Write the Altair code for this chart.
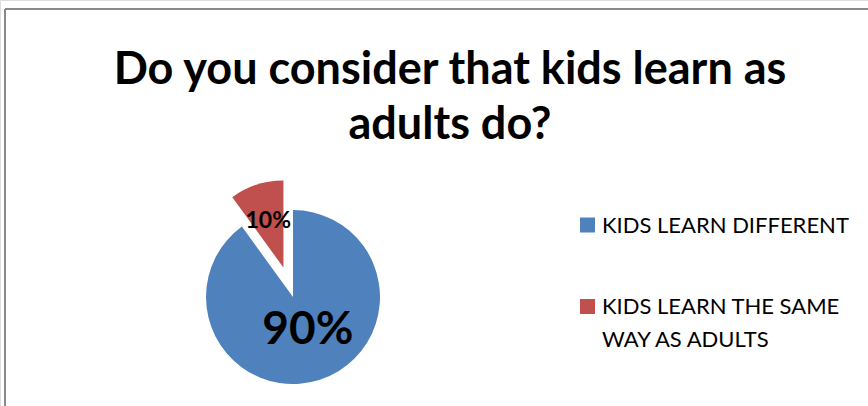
import math
import altair as alt
import pandas as pd

# ---- data ----
categories = ["KIDS LEARN DIFFERENT", "KIDS LEARN THE SAME WAY AS ADULTS"]
values = [90, 10]
pct_labels = ["90%", "10%"]
legend_lines = [["KIDS LEARN DIFFERENT"], ["KIDS LEARN THE SAME", "WAY AS ADULTS"]]
title_lines = ["Do you consider that kids learn as", "adults do?"]
colors = ["#4F81BD", "#C0504D"]

df = pd.DataFrame({
    "category": categories,
    "value": values,
    "label": pct_labels,
    "legend_text": ["|".join(l) for l in legend_lines],
    "order": list(range(len(categories))),
})

W, H = 868, 406
CX, CY, R = 293, 297, 87
EXPLODE = 31  # px the small slice is pulled out

theta_scale = alt.Scale(domain=[0, 100], range=[0, 2 * math.pi])
color_scale = alt.Scale(domain=categories, range=colors)
legend_y = alt.Y(
    "category:N", axis=None,
    scale=alt.Scale(type="point", domain=categories, range=[225, 306.5], padding=0),
)

base = alt.Chart(df).transform_window(
    cum="sum(value)", sort=[alt.SortField("order")]
).transform_calculate(
    start="datum.cum - datum.value",
    mid="datum.cum - datum.value / 2",
)

def arc_layer(idx, dx=0.0, dy=0.0):
    return base.transform_filter(alt.datum.order == idx).mark_arc(
        outerRadius=R, xOffset=dx, yOffset=dy
    ).encode(
        x=alt.value(CX), y=alt.value(CY),
        theta=alt.Theta("start:Q", scale=theta_scale, stack=None),
        theta2="cum:Q",
        color=alt.Color("category:N", scale=color_scale, legend=None),
    )

# explode direction: bisector of the small slice
mid_angle = (100 - values[1] / 2) / 100 * 2 * math.pi
ex = EXPLODE * math.sin(mid_angle)
ey = -EXPLODE * math.cos(mid_angle)

big = arc_layer(0)
small = arc_layer(1, ex, ey)

big_text = base.transform_filter(alt.datum.order == 0).mark_text(
    font="Lato", fontSize=46, fontWeight="bold", color="black",
    align="center", baseline="middle", dx=4,
).encode(
    x=alt.value(CX), y=alt.value(CY),
    theta=alt.Theta("mid:Q", scale=theta_scale, stack=None),
    radius=alt.value(35),
    text="label:N",
)

small_text = base.transform_filter(alt.datum.order == 1).mark_text(
    font="Lato", fontSize=23, fontWeight="bold", color="black",
    align="center", baseline="middle",
).encode(
    x=alt.value(CX), y=alt.value(CY),
    theta=alt.Theta("mid:Q", scale=theta_scale, stack=None),
    radius=alt.value(80),
    text="label:N",
)

# legend (symbols + wrapped labels)
legend_sym = alt.Chart(df).mark_square(size=225, opacity=1, strokeWidth=0).encode(
    x=alt.value(587.5), y=legend_y,
    color=alt.Color("category:N", scale=color_scale, legend=None),
)
legend_txt = alt.Chart(df).transform_calculate(
    lines="split(datum.legend_text, '|')"
).mark_text(
    font="Lato", fontSize=22, color="black", align="left", baseline="top",
    lineHeight=33, dy=-9.5,
).encode(
    x=alt.value(602), y=legend_y, text="lines:N",
)

border_top = alt.Chart(df).mark_rule(color="#898989", strokeWidth=2).encode(
    x=alt.value(5), x2=alt.value(W), y=alt.value(9)
)
border_left = alt.Chart(df).mark_rule(color="#898989", strokeWidth=2).encode(
    x=alt.value(5), y=alt.value(9), y2=alt.value(H)
)

chart = alt.layer(
    border_top, border_left, big, small, big_text, small_text, legend_sym, legend_txt
).properties(
    width=W, height=H,
    autosize=alt.AutoSizeParams(type="none"),
    padding=0,
    title=alt.Title(
        title_lines, font="Lato", fontSize=45, fontWeight="bold", color="black",
        anchor="middle", frame="group", dx=16, lineHeight=55,
        baseline="alphabetic", offset=-184,
    ),
).configure_view(stroke=None).configure(background="white")

chart.save("out.html", embed_options={"renderer": "svg", "actions": False})
